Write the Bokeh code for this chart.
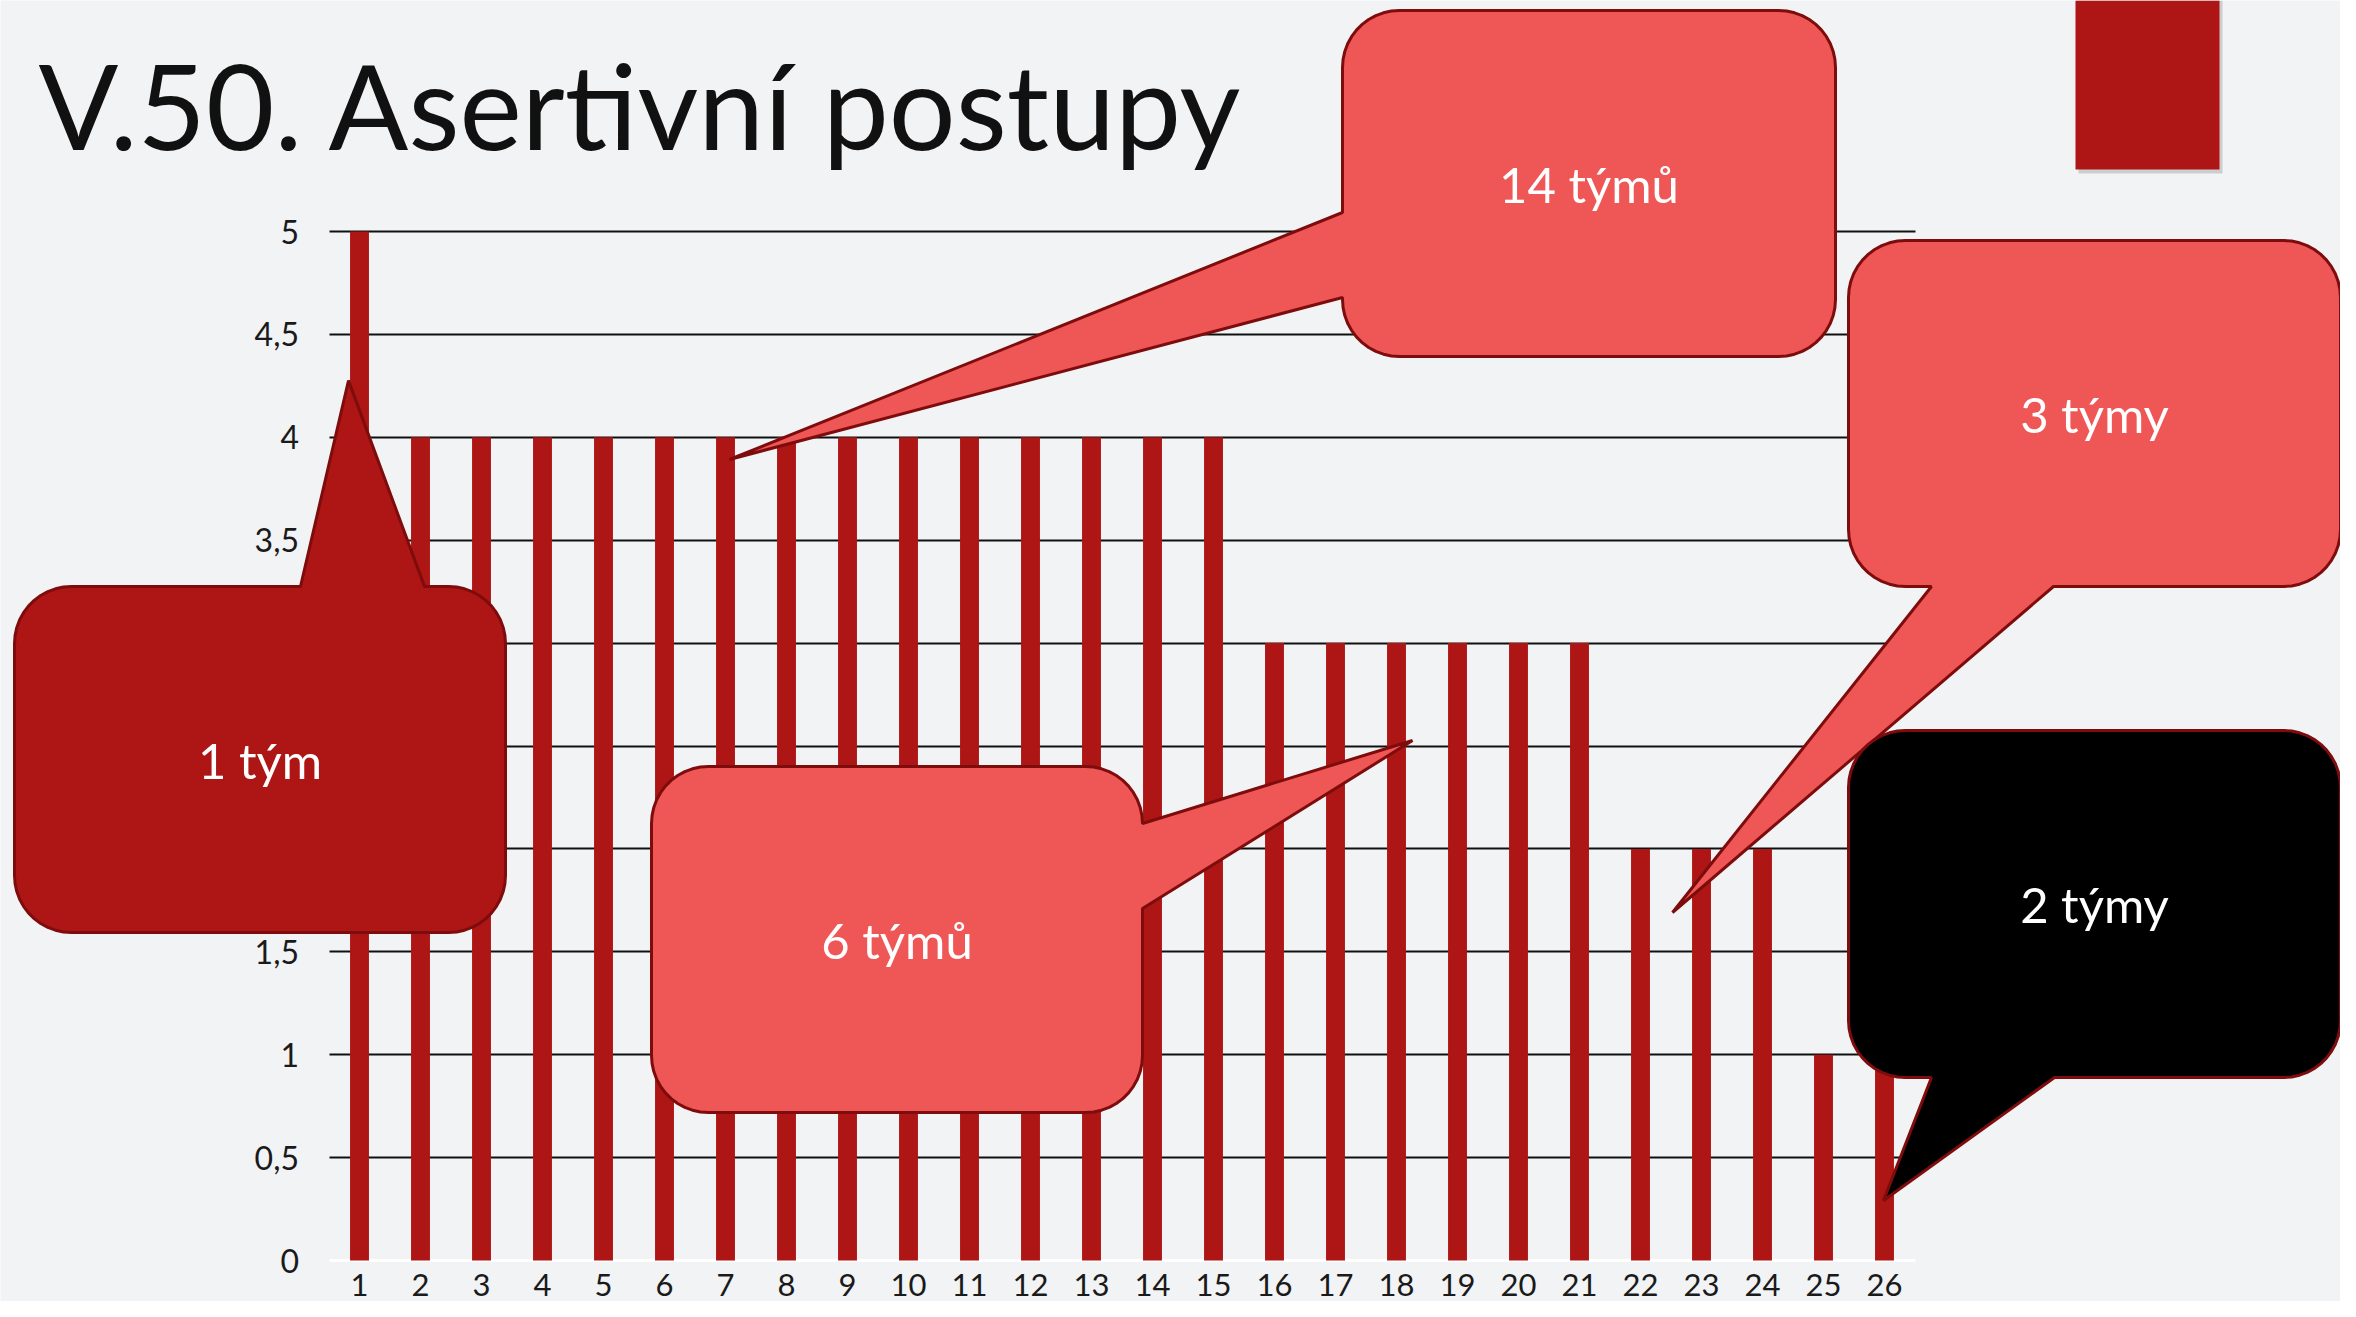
import numpy as np
from bokeh.plotting import figure
from bokeh.models import Range1d, FixedTicker, LinearAxis, Grid
from bokeh.core.properties import value
from bokeh.embed import file_html
from bokeh.resources import INLINE

# ---------------- data ----------------
categories = ["1", "2", "3", "4", "5", "6", "7", "8", "9", "10", "11", "12", "13",
              "14", "15", "16", "17", "18", "19", "20", "21", "22", "23", "24", "25", "26"]
values = [5, 4, 4, 4, 4, 4, 4, 4, 4, 4, 4, 4, 4, 4, 4,
          3, 3, 3, 3, 3, 3, 2, 2, 2, 1, 1]
y_ticks = [0, 0.5, 1, 1.5, 2, 2.5, 3, 3.5, 4, 4.5, 5]
y_tick_labels = ["0", "0,5", "1", "1,5", "2", "2,5", "3", "3,5", "4", "4,5", "5"]
title_text = "V.50. Asertivní postupy"
callout_texts = ["1 tým", "14 týmů", "6 týmů", "3 týmy", "2 týmy"]

# ---------------- layout / style ----------------
W, H = 2340, 1301
OFF = 0                      # picture pixel of figure's top-left
BAR_X0, BAR_STEP = 298, 61   # px of x=0 and px per category
Y0_PX, Y_UNIT = 1260, 205.8  # px of y=0 and px per unit
BG = "#F1F3F5"
RED = "#AE1515"
LIGHT = "#EF5656"
EDGE = "#7E0C0C"
FONT = "Lato"

x_pos = list(range(1, len(categories) + 1))

p = figure(width=W, height=H, output_backend="svg", toolbar_location=None,
           x_range=Range1d((OFF - BAR_X0) / BAR_STEP, (OFF + W - BAR_X0) / BAR_STEP),
           y_range=Range1d((Y0_PX - (OFF + H)) / Y_UNIT, (Y0_PX - OFF) / Y_UNIT),
           x_axis_type=None, y_axis_type=None, min_border=0,
           background_fill_color=BG, border_fill_color=BG, outline_line_color=None)
p.extra_x_ranges = {"px": Range1d(OFF, OFF + W)}
p.extra_y_ranges = {"px": Range1d(OFF + H, OFF)}

# grid lines
grid_ticks = [t for t in y_ticks if t > 0]
gkw = dict(dimension=1, ticker=FixedTicker(ticks=grid_ticks),
           grid_line_color="#101010", grid_line_width=2)
if "cross_bounds" in Grid.properties():
    p.add_layout(Grid(cross_bounds=(0.5, len(categories) + 0.5), **gkw))
else:
    p.segment(x0=[0.5] * len(grid_ticks), x1=[len(categories) + 0.5] * len(grid_ticks),
              y0=grid_ticks, y1=grid_ticks, line_color="#101010", line_width=2, level="underlay")

# axes
yaxis = LinearAxis(fixed_location=0.5, ticker=FixedTicker(ticks=y_ticks),
                   major_label_overrides={t: l for t, l in zip(y_ticks, y_tick_labels)},
                   axis_line_color=None, major_tick_line_color=None, minor_tick_line_color=None,
                   major_tick_out=0, major_tick_in=0, major_label_standoff=30,
                   major_label_text_font_size="32px", major_label_text_font=FONT,
                   major_label_text_color="#1a1a1a", level="underlay")
p.add_layout(yaxis, "left")
xaxis = LinearAxis(fixed_location=0, ticker=FixedTicker(ticks=x_pos),
                   major_label_overrides={x: c for x, c in zip(x_pos, categories)},
                   bounds=(0.5, len(categories) + 0.5),
                   axis_line_color="#FFFFFF", axis_line_width=3,
                   major_tick_line_color=None, minor_tick_line_color=None,
                   major_tick_out=0, major_tick_in=0, major_label_standoff=13,
                   major_label_text_font_size="31px", major_label_text_font=FONT,
                   major_label_text_color="#1a1a1a", level="underlay")
p.add_layout(xaxis, "below")

# bars
p.vbar(x=x_pos, top=values, bottom=0, width=0.31, fill_color=RED, line_color=None)

# ---------------- decorations (picture pixel coordinates) ----------------
p.quad(left=[2078], right=[2222], top=[0], bottom=[173], fill_color="#888888", fill_alpha=0.35,
       line_color=None, x_range_name="px", y_range_name="px")
p.quad(left=[2075], right=[2219], top=[0], bottom=[169], fill_color=RED,
       line_color=None, x_range_name="px", y_range_name="px")

# title
p.text(x=[38], y=[104], text=[title_text], text_font=value(FONT), text_font_size="118px",
       text_color="#111111", text_baseline="middle", text_align="left",
       x_range_name="px", y_range_name="px")


def callout(x0, y0, x1, y1, side, b1, b2, tip, r=57, n=12):
    pts = []

    def arc(cx, cy, a0, a1):
        for t in np.linspace(a0, a1, n):
            pts.append((cx + r * np.cos(t), cy + r * np.sin(t)))

    arc(x0 + r, y0 + r, np.pi, 1.5 * np.pi)
    if side == "top":
        pts += [(b1, y0), tip, (b2, y0)]
    arc(x1 - r, y0 + r, 1.5 * np.pi, 2 * np.pi)
    if side == "right":
        pts += [(x1, b1), tip, (x1, b2)]
    arc(x1 - r, y1 - r, 0, 0.5 * np.pi)
    if side == "bottom":
        pts += [(b2, y1), tip, (b1, y1)]
    arc(x0 + r, y1 - r, 0.5 * np.pi, np.pi)
    if side == "left":
        pts += [(x0, b2), tip, (x0, b1)]
    return [q[0] for q in pts], [q[1] for q in pts]


shapes = [
    (14, 586, 505, 932, "top", 300, 424, (348, 380), RED),
    (1342, 10, 1835, 356, "left", 212, 297, (729, 459), LIGHT),
    (651, 766, 1142, 1112, "right", 823, 908, (1412, 740), LIGHT),
    (1848, 240, 2340, 586, "bottom", 1931, 2053, (1672, 912), LIGHT),
    (1848, 730, 2340, 1077, "bottom", 1931, 2054, (1883, 1200), "#000000"),
]
for (x0, y0, x1, y1, side, b1, b2, tip, col), txt in zip(shapes, callout_texts):
    xs, ys = callout(x0, y0, x1, y1, side, b1, b2, tip)
    p.patch(xs, ys, fill_color=col, line_color=EDGE, line_width=3,
            x_range_name="px", y_range_name="px")
    p.text(x=[(x0 + x1) / 2], y=[(y0 + y1) / 2], text=[txt], text_font=value(FONT),
           text_font_size="49px", text_color="#FFFFFF", text_align="center",
           text_baseline="middle", x_range_name="px", y_range_name="px")

open("out.html", "w").write(file_html(p, INLINE))
